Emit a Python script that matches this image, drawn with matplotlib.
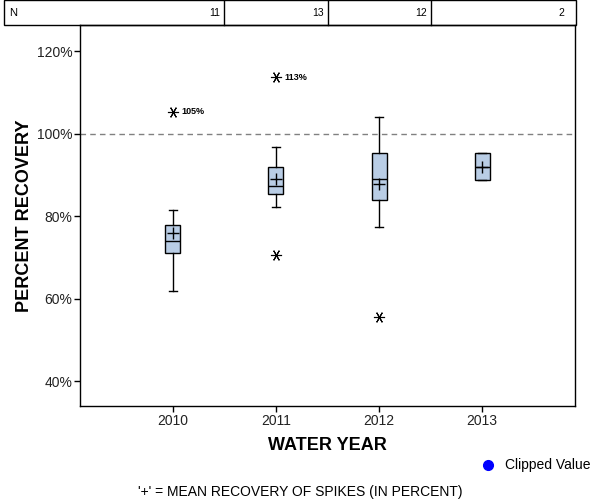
import matplotlib.pyplot as plt
from matplotlib.patches import Rectangle
from matplotlib.lines import Line2D
from matplotlib.transforms import blended_transform_factory
from matplotlib.ticker import FuncFormatter

plt.rcParams['font.family'] = ['Liberation Sans', 'DejaVu Sans']

# box statistics (percent recovery)
years = ['2010', '2011', '2012', '2013']
n_counts = [11, 13, 12, 2]
q1 = [71.0, 85.3, 84.0, 88.7]
medians = [73.9, 87.2, 89.1, 92.0]
q3 = [77.8, 92.0, 95.4, 95.4]
whis_lo = [61.8, 82.1, 77.3, 88.7]
whis_hi = [81.4, 96.8, 103.9, 95.4]
means = [75.8, 88.9, 87.9, 92.0]
outliers = [[105.3], [70.5, 113.6], [55.6], []]

box_color = '#b9cde5'

fig = plt.figure(figsize=(6, 5), dpi=100)
ax = fig.add_axes([80 / 600, 94 / 500, 495 / 600, 381 / 500])

stats = []
for i in range(len(years)):
    stats.append({'med': medians[i], 'q1': q1[i], 'q3': q3[i],
                  'whislo': whis_lo[i], 'whishi': whis_hi[i],
                  'mean': means[i], 'fliers': outliers[i]})

pos = list(range(len(years)))
ax.bxp(stats, positions=pos, widths=0.145, patch_artist=True,
       showmeans=True, showfliers=True,
       boxprops=dict(facecolor=box_color, edgecolor='black', linewidth=1),
       medianprops=dict(color='black', linewidth=1),
       whiskerprops=dict(color='black', linewidth=1),
       capprops=dict(color='black', linewidth=1),
       capwidths=0.075,
       meanprops=dict(marker='+', markeredgecolor='black', markersize=9, markeredgewidth=1),
       flierprops=dict(marker=(6, 2, 90), markeredgecolor='black', markersize=8, markeredgewidth=0.8))

# label the high outliers
for i, vals in enumerate(outliers):
    for v in vals:
        if v > 100:
            ax.text(i + 0.08, v, f'{int(v)}%', fontsize=6.5, fontweight='bold', va='center', ha='left')

ax.axhline(100, color='gray', linestyle=(0, (4, 3)), linewidth=1)

ax.set_xlim(-0.9, 3.9)
ax.set_ylim(34, 126.3)
ax.set_xticks(pos)
ax.set_xticklabels(years)
ax.set_yticks([40, 60, 80, 100, 120])
ax.yaxis.set_major_formatter(FuncFormatter(lambda v, p: f'{v:.0f}%'))
ax.tick_params(labelsize=10, length=4, width=1, pad=1.5, colors='black', labelcolor='#222222')
for s in ax.spines.values():
    s.set_linewidth(1)

ax.set_xlabel('WATER YEAR', fontsize=13, fontweight='bold', labelpad=7)
ax.set_ylabel('PERCENT RECOVERY', fontsize=13, fontweight='bold')
ax.yaxis.set_label_coords(-0.095, 0.5)

# N table across the top
tr = blended_transform_factory(ax.transData, fig.transFigure)
fig.add_artist(Rectangle((4 / 600, 475 / 500), 572 / 600, 24.5 / 500, transform=fig.transFigure,
                         fill=False, edgecolor='black', linewidth=1))
for i in range(len(years) - 1):
    fig.add_artist(Line2D([i + 0.5, i + 0.5], [475 / 500, 499.5 / 500], transform=tr,
                          color='black', linewidth=1))
fig.text(9 / 600, 487 / 500, 'N', fontsize=8, va='center', ha='left')
for i, n in enumerate(n_counts):
    right = i + 0.5 if i < len(years) - 1 else 3.84
    ax.text(right - 0.04, 487 / 500, str(n), fontsize=7.5, va='center', ha='right', transform=tr)

# legend and footnote
fig.add_artist(Line2D([488 / 600], [35 / 500], marker='o', color='blue', markersize=7,
                      linestyle='none', transform=fig.transFigure))
fig.text(505 / 600, 35 / 500, 'Clipped Value', fontsize=10, va='center', ha='left')
fig.text(300 / 600, 8 / 500, "'+' = MEAN RECOVERY OF SPIKES (IN PERCENT)", fontsize=10,
         va='center', ha='center')

fig.savefig('out.png', dpi=100)
